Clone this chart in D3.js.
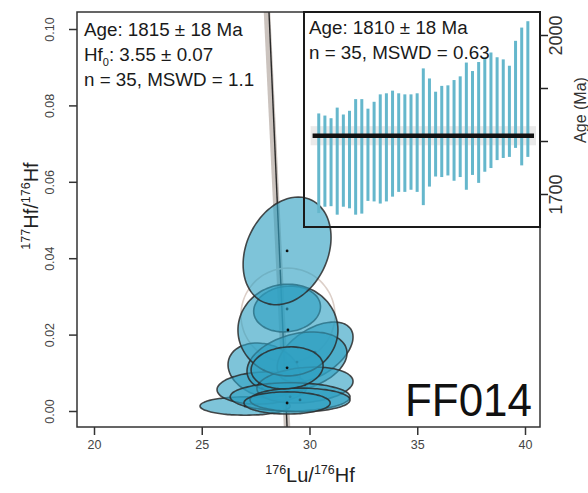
<!DOCTYPE html>
<html><head><meta charset="utf-8">
<script src="https://cdn.jsdelivr.net/npm/d3@7"></script>
<style>
body{margin:0;background:#fff}
svg{display:block}
text{font-family:"Liberation Sans",Arial,Helvetica,sans-serif}
</style>
</head><body>
<svg id="c" width="588" height="493"></svg>
<script>
// ---- data ----
const xTicks = [20, 25, 30, 35, 40];
const yTicks = [0.00, 0.02, 0.04, 0.06, 0.08, 0.10];
const yTickLabels = ["0.00", "0.02", "0.04", "0.06", "0.08", "0.10"];
const ageTicks = [1700, 1800, 1900, 2000];
const ageTickLabels = ["1700", "", "", "2000"];

// isochron ellipses (176Lu/176Hf, 177Hf/176Hf, half widths, correlation) in drawing order
const ellX   = [27.01, 27.89, 27.80, 30.26, 29.42, 29.79, 29.10, 29.56, 28.96, 29.00, 28.96, 28.96, 28.96];
const ellY   = [0.0013, 0.0107, 0.0060, 0.0154, 0.0128, 0.0068, 0.0037, 0.0029, 0.0267, 0.0212, 0.0419, 0.0113, 0.0021];
const ellSx  = [2.09, 1.67, 2.09, 1.76, 2.32, 2.23, 2.78, 2.32, 1.55, 2.32, 2.04, 1.67, 2.00];
const ellSy  = [0.0024, 0.0071, 0.0042, 0.0079, 0.0079, 0.0047, 0.0037, 0.0031, 0.0060, 0.0120, 0.0141, 0.0055, 0.0029];
const ellRho = [0.0, -0.2, 0.1, 0.5, 0.3, 0.2, 0.0, 0.0, 0.1, 0.0, 0.25, 0.1, 0.0];

// faint reference ellipse
const refX = [29.00], refY = [0.0251], refSx = [2.18], refSy = [0.0123];

// isochron line y = a + b x
const isoA = 3.746, isoB = -0.1295;

// inset: single-grain ages (Ma) and errors
const grainAge = [1758,1762,1760,1762,1763,1765,1770,1771,1774,1780,1785,1788,1795,1797,1796,1798,1797,1808,1816,1813,1818,1820,1820,1827,1828,1834,1835,1850,1858,1861,1861,1856,1888,1884,1898];
const grainErr = [94,86,83,101,87,92,109,108,87,94,103,102,100,93,92,90,93,129,102,80,86,85,95,95,120,98,114,108,109,97,93,86,101,130,128];
const meanAge = 1810, meanErr = 18;

// ---- drawing ----
const svg = d3.select("#c");
const box = {l: 77, t: 12, r: 540, b: 427};
const x = d3.scaleLinear([20, 40], [94, 525]);
const y = d3.scaleLinear([0, 0.10], [411, 29]);

svg.append("defs").append("clipPath").attr("id", "clip")
  .append("rect").attr("x", box.l).attr("y", box.t).attr("width", box.r - box.l).attr("height", box.b - box.t);

const plot = svg.append("g").attr("clip-path", "url(#clip)");

// isochron band + line
const yLo = y.invert(box.b + 2), yHi = y.invert(box.t - 2);
const isoPts = [yLo, yHi].map(v => [x((v - isoA) / isoB), y(v)]);
plot.append("line").attr("x1", isoPts[0][0]).attr("y1", isoPts[0][1]).attr("x2", isoPts[1][0] - 2).attr("y2", isoPts[1][1])
  .attr("stroke", "#cbc3be").attr("stroke-width", 6.5);
plot.append("line").attr("x1", isoPts[0][0]).attr("y1", isoPts[0][1]).attr("x2", isoPts[1][0]).attr("y2", isoPts[1][1])
  .attr("stroke", "#2a2a2a").attr("stroke-width", 1.4);

function ellPath(cx, cy, sx, sy, rho) {
  const pts = d3.range(0, 72).map(i => {
    const t = i / 72 * 2 * Math.PI;
    return [x(cx + sx * Math.cos(t)), y(cy + sy * (rho * Math.cos(t) + Math.sqrt(1 - rho * rho) * Math.sin(t)))];
  });
  return d3.line().curve(d3.curveCardinalClosed)(pts);
}

// faint reference ellipse
refX.forEach((v, i) => {
  plot.append("path").attr("d", ellPath(v, refY[i], refSx[i], refSy[i], 0))
    .attr("fill", "none").attr("stroke", "#dccfc8").attr("stroke-width", 1.6);
});

const eg = plot.append("g");
ellX.forEach((v, i) => {
  eg.append("path").attr("d", ellPath(v, ellY[i], ellSx[i], ellSy[i], ellRho[i]))
    .attr("fill", "#2f9fc2").attr("fill-opacity", 0.62)
    .attr("stroke", "#2b2b2b").attr("stroke-width", 1.6).attr("stroke-opacity", 0.85);
  eg.append("circle").attr("cx", x(v)).attr("cy", y(ellY[i])).attr("r", 1.4).attr("fill", "#111");
});

// box
svg.append("rect").attr("x", box.l).attr("y", box.t).attr("width", box.r - box.l).attr("height", box.b - box.t)
  .attr("fill", "none").attr("stroke", "#333").attr("stroke-width", 1.5);

// x axis
const xa = svg.append("g").attr("transform", `translate(0,${box.b})`)
  .call(d3.axisBottom(x).tickValues(xTicks).tickSize(8).tickPadding(5).tickFormat(d3.format("d")));
xa.select(".domain").remove();
xa.selectAll("line").attr("stroke", "#333").attr("stroke-width", 1.5);
xa.selectAll("text").attr("font-size", 12.5).attr("fill", "#444").attr("font-family", "Liberation Sans, Arial, sans-serif");

// y axis
const ya = svg.append("g").attr("transform", `translate(${box.l},0)`)
  .call(d3.axisLeft(y).tickValues(yTicks).tickSize(8).tickFormat((d, i) => yTickLabels[i]));
ya.select(".domain").remove();
ya.selectAll("line").attr("stroke", "#333").attr("stroke-width", 1.5);
ya.selectAll("text").attr("font-size", 12.5).attr("fill", "#444").attr("font-family", "Liberation Sans, Arial, sans-serif")
  .attr("x", null).attr("dy", null)
  .attr("text-anchor", "middle").attr("dominant-baseline", "central")
  .attr("transform", "translate(-27,0) rotate(-90)");

// axis titles
const xt = svg.append("text").attr("x", 310).attr("y", 482).attr("text-anchor", "middle").attr("fill", "#222").attr("font-size", 20);
xt.append("tspan").attr("font-size", 12.5).attr("dy", -8).text("176");
xt.append("tspan").attr("dy", 8).text("Lu/");
xt.append("tspan").attr("font-size", 12.5).attr("dy", -8).text("176");
xt.append("tspan").attr("dy", 8).text("Hf");

const yt = svg.append("text").attr("transform", "translate(38,206) rotate(-90)").attr("text-anchor", "middle").attr("fill", "#222").attr("font-size", 20);
yt.append("tspan").attr("font-size", 12.5).attr("dy", -8).text("177");
yt.append("tspan").attr("dy", 8).text("Hf/");
yt.append("tspan").attr("font-size", 12.5).attr("dy", -8).text("176");
yt.append("tspan").attr("dy", 8).text("Hf");

// main annotation
const ann = svg.append("g").attr("fill", "#1a1a1a").attr("font-size", 18.8);
ann.append("text").attr("x", 84).attr("y", 36).text("Age: 1815 ± 18 Ma");
const hf = ann.append("text").attr("x", 84).attr("y", 61);
hf.append("tspan").text("Hf");
hf.append("tspan").attr("font-size", 11).attr("dy", 5).text("0");
hf.append("tspan").attr("dy", -5).text(": 3.55 ± 0.07");
ann.append("text").attr("x", 84).attr("y", 86).text("n = 35, MSWD = 1.1");

svg.append("text").attr("x", 405).attr("y", 416).attr("font-size", 47).attr("fill", "#111")
  .attr("textLength", 127).attr("lengthAdjust", "spacingAndGlyphs").text("FF014");

// ---- inset ----
const ix = d3.scaleLinear([0, 36], [312.6, 534]);
const iy = d3.scaleLinear([1700, 2000], [194, 35]);
const inset = {l: 304, t: 12, r: 540, b: 227};
const ig = svg.append("g");
ig.append("rect").attr("x", ix(0) - 2).attr("y", iy(meanAge + meanErr)).attr("width", ix(36) - ix(0) + 4)
  .attr("height", iy(meanAge - meanErr) - iy(meanAge + meanErr)).attr("fill", "#d6d6d6").attr("opacity", 0.5);
ig.selectAll("rect.bar").data(grainAge).join("rect").attr("class", "bar")
  .attr("x", (d, i) => ix(i + 1) - 1.5).attr("width", 3)
  .attr("y", (d, i) => iy(d + grainErr[i]))
  .attr("height", (d, i) => iy(d - grainErr[i]) - iy(d + grainErr[i]))
  .attr("fill", "#65b7cc");
ig.append("line").attr("x1", ix(0)).attr("x2", ix(36)).attr("y1", iy(meanAge)).attr("y2", iy(meanAge))
  .attr("stroke", "#111").attr("stroke-width", 4.5);
ig.append("rect").attr("x", inset.l).attr("y", inset.t).attr("width", inset.r - inset.l).attr("height", inset.b - inset.t)
  .attr("fill", "none").attr("stroke", "#1a1a1a").attr("stroke-width", 2);

const ra = svg.append("g").attr("transform", `translate(${inset.r},0)`)
  .call(d3.axisRight(iy).tickValues(ageTicks).tickSize(8).tickFormat((d, i) => ageTickLabels[i]));
ra.select(".domain").remove();
ra.selectAll("line").attr("stroke", "#222").attr("stroke-width", 1.5);
ra.selectAll("text").attr("font-size", 18).attr("fill", "#333").attr("font-family", "Liberation Sans, Arial, sans-serif")
  .attr("x", null).attr("dy", null)
  .attr("text-anchor", "middle").attr("dominant-baseline", "central")
  .attr("transform", "translate(16,0) rotate(-90)");

svg.append("text").attr("transform", "translate(586,110) rotate(-90)").attr("text-anchor", "middle")
  .attr("font-size", 16).attr("fill", "#333").text("Age (Ma)");

const it = svg.append("g").attr("fill", "#1a1a1a").attr("font-size", 18.8);
it.append("text").attr("x", 309).attr("y", 34).text("Age: 1810 ± 18 Ma");
it.append("text").attr("x", 309).attr("y", 59).text("n = 35, MSWD = 0.63");
</script>
</body></html>
